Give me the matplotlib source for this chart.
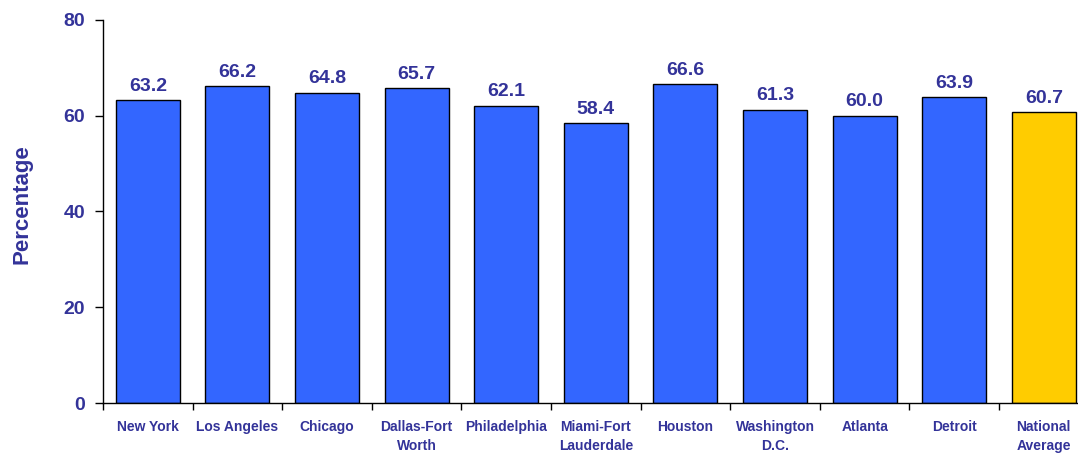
import numpy as np
from matplotlib import pyplot as plt

cities = ["New York", "Los Angeles", "Chicago", "Dallas-Fort\nWorth", "Philadelphia",
          "Miami-Fort\nLauderdale", "Houston", "Washington\nD.C.", "Atlanta", "Detroit",
          "National\nAverage"]
values = [63.2, 66.2, 64.8, 65.7, 62.1, 58.4, 66.6, 61.3, 60.0, 63.9, 60.7]
y_ticks = [0, 20, 40, 60, 80]

navy = "#333399"
colors = ["#3366FF"] * (len(values) - 1) + ["#FFCC00"]

plt.rcParams['font.family'] = ['Liberation Sans', 'DejaVu Sans']
plt.rcParams['font.weight'] = 'bold'

fig = plt.figure(figsize=(10.78, 4.55), dpi=100)
ax = fig.add_axes([103 / 1078, 52 / 455, 985.6 / 1078, 383 / 455])

x = np.arange(len(values))
bars = ax.bar(x, values, width=0.715, color=colors, edgecolor="black", linewidth=1)

for b, v in zip(bars, values):
    ax.annotate(f"{v:.1f}", (b.get_x() + b.get_width() / 2, v), xytext=(0, 4),
                textcoords="offset points", ha="center", va="bottom",
                color=navy, fontsize=14, fontweight="bold")

ax.set_xlim(-0.5, len(values) - 0.5)
ax.set_ylim(0, 80)
ax.set_yticks(y_ticks)
ax.set_xticks(x)
ax.set_xticklabels(cities, fontsize=10, color=navy, fontweight="bold", linespacing=1.45)
ax.set_xticks(np.arange(len(values)) - 0.5, minor=True)
ax.tick_params(axis="x", which="major", length=0, pad=12)
ax.tick_params(axis="x", which="minor", length=5, direction="out", color="black", width=1)
ax.tick_params(axis="y", length=6, direction="out", pad=7, labelsize=14,
               labelcolor=navy, width=1)
for lab in ax.get_yticklabels():
    lab.set_fontweight("bold")

ax.set_ylabel("Percentage", fontsize=16, color=navy, fontweight="bold", labelpad=22, y=0.52)

ax.spines["top"].set_visible(False)
ax.spines["right"].set_visible(False)
ax.spines["left"].set_linewidth(1)
ax.spines["bottom"].set_linewidth(1)

plt.savefig("out.png", dpi=100)
